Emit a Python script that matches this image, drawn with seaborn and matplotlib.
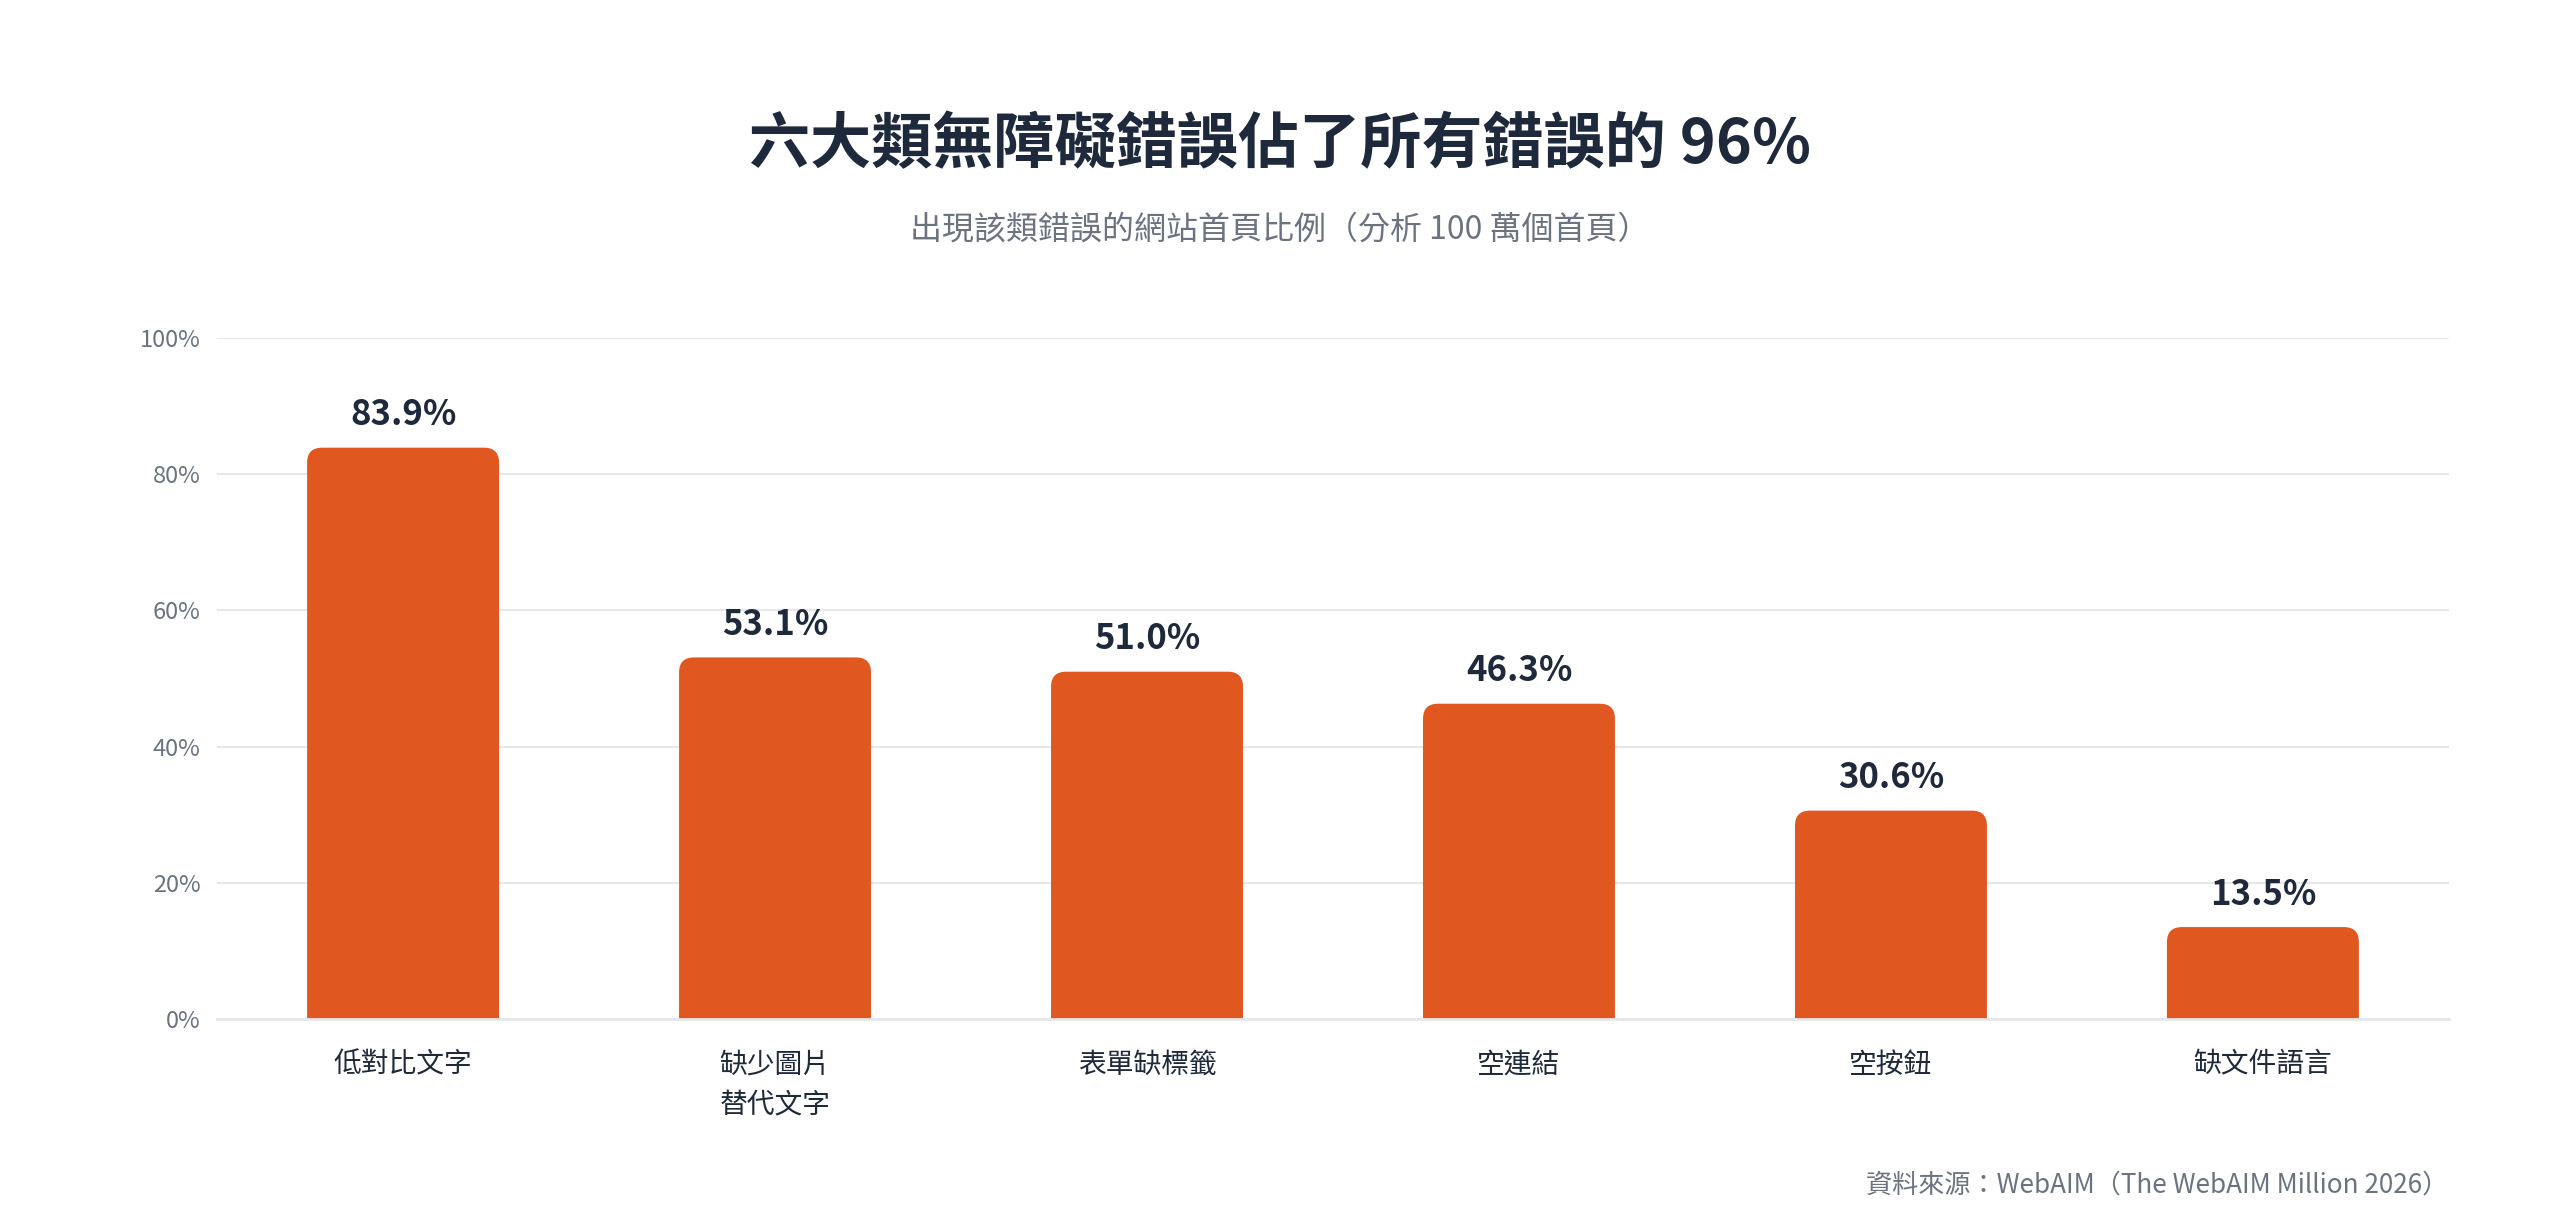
import matplotlib
matplotlib.use("Agg")
import matplotlib.pyplot as plt
from matplotlib.patches import FancyBboxPatch
import pandas as pd
import seaborn as sns

# chart data
categories = ["低對比文字", "缺少圖片\n替代文字", "表單缺標籤", "空連結", "空按鈕", "缺文件語言"]
values = [83.9, 53.1, 51.0, 46.3, 30.6, 13.5]
y_ticks = [0, 20, 40, 60, 80, 100]
y_tick_labels = ["0%", "20%", "40%", "60%", "80%", "100%"]

title = "六大類無障礙錯誤佔了所有錯誤的 96%"
subtitle = "出現該類錯誤的網站首頁比例（分析 100 萬個首頁）"
source = "資料來源：WebAIM（The WebAIM Million 2026）"

BAR = "#E0581F"
DARK = "#1E293B"
GRAY = "#6B7280"
GRID = "#E5E7EB"

sns.set_theme(style="white")
plt.rcParams["font.family"] = ["Noto Sans CJK TC", "DejaVu Sans"]

df = pd.DataFrame({"cat": categories, "val": values})

fig = plt.figure(figsize=(25.6, 12.23), dpi=100)
ax = fig.add_axes([0.0848, 0.1668, 0.8718, 0.5568])

sns.barplot(data=df, x="cat", y="val", color=BAR, width=0.516, saturation=1, ax=ax)

ax.set_ylim(0, 100)
ax.set_xlim(-0.5, len(categories) - 0.5)

# swap the plain bars for bars with rounded top corners
# (rounded box starts below zero so the axes clip hides the bottom corners)
fig.canvas.draw()
px_x = ax.bbox.width / (len(categories))
px_y = ax.bbox.height / 100
r_px = 15
r_x = r_px / px_x
aspect = (r_px / px_y) / r_x
for p in list(ax.patches):
    x, w, h = p.get_x(), p.get_width(), p.get_height()
    p.set_visible(False)
    extra = 2 * r_px / px_y
    rb = FancyBboxPatch((x, -extra), w, h + extra,
                        boxstyle=f"round,pad=0,rounding_size={r_x}",
                        mutation_aspect=aspect, facecolor=BAR, edgecolor="none",
                        zorder=3, clip_on=True)
    ax.add_patch(rb)
    ax.annotate(f"{h:.1f}%", (x + w / 2, h), xytext=(0, 16), textcoords="offset points",
                ha="center", va="baseline", fontsize=25, fontweight="bold", color=DARK)

ax.set_yticks(y_ticks)
ax.set_yticklabels(y_tick_labels, fontsize=17, color=GRAY)
ax.set_xticks(range(len(categories)))
ax.set_xticklabels(categories, fontsize=20, color=DARK, linespacing=1.45)
ax.tick_params(axis="x", length=0, pad=22)
ax.tick_params(axis="y", length=0, pad=12)
ax.set_xlabel("")
ax.set_ylabel("")

ax.grid(axis="y", color=GRID, linewidth=1.5, zorder=0)
ax.set_axisbelow(True)
for s in ["top", "right", "left"]:
    ax.spines[s].set_visible(False)
ax.spines["bottom"].set_color(GRID)
ax.spines["bottom"].set_linewidth(2)
ax.spines["bottom"].set_zorder(4)

fig.text(0.5, 1 - 145 / 1223, title, ha="center", va="center",
         fontsize=44, fontweight="bold", color=DARK)
fig.text(0.5, 1 - 230 / 1223, subtitle, ha="center", va="center",
         fontsize=23, fontweight="medium", color=GRAY)
fig.text(2448 / 2560, 1 - 1185 / 1223, source, ha="right", va="center",
         fontsize=18.8, color=GRAY)

fig.savefig("out.png", dpi=100, facecolor="white")
